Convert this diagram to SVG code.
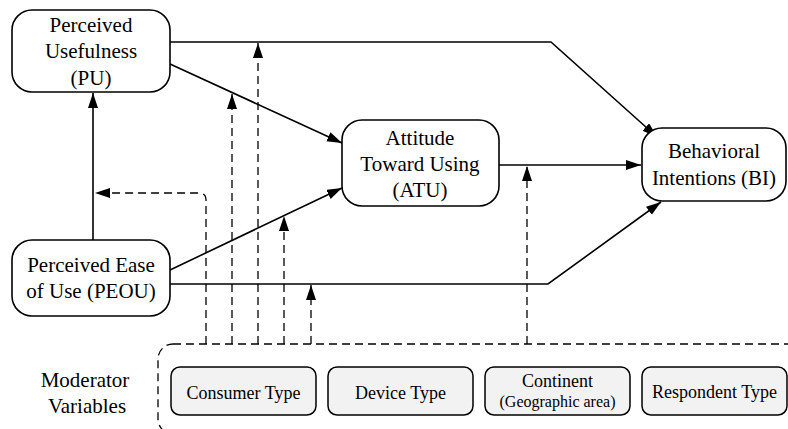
<svg xmlns="http://www.w3.org/2000/svg" width="788" height="429" viewBox="0 0 788 429">
<defs>
<marker id="ah" markerUnits="userSpaceOnUse" markerWidth="16" markerHeight="12" refX="15" refY="5" orient="auto">
<path d="M0,0 L15,5 L0,10 z" fill="#000"/>
</marker>
<style>
.node{fill:#fff;stroke:#000;stroke-width:1.6}
.sub{fill:#f2f2f2;stroke:#000;stroke-width:1.5}
text{font-family:'Liberation Serif','Times New Roman',serif;fill:#000;text-anchor:middle}
.t{font-size:21px}
.s{font-size:18px}
.xs{font-size:16px}
.solid{fill:none;stroke:#000;stroke-width:1.6;marker-end:url(#ah)}
.dash{fill:none;stroke:#000;stroke-width:1.3;stroke-dasharray:8,5}
.darr{marker-end:url(#ah)}
</style>
</defs>
<g id="connectors">
<path class="solid" d="M170,42 H551 L657,137"/>
<path class="solid" d="M170,64 L342,143"/>
<path class="solid" d="M93,240 V93"/>
<path class="solid" d="M170,270 L342,188"/>
<path class="solid" d="M170,284 H548 L661,202"/>
<path class="solid" d="M499,165 H641"/>
<path class="dash darr" d="M206,344 V200 Q206,193 199,193 H95"/>
<path class="dash darr" d="M232,344 V94"/>
<path class="dash darr" d="M258,344 V43"/>
<path class="dash darr" d="M284,344 V216"/>
<path class="dash darr" d="M311,344 V285"/>
<path class="dash darr" d="M527,344 V166"/>
</g>
<g id="moderator">
<rect class="dash" x="158" y="344" width="700" height="90" rx="15"/>
<text class="t" x="85" y="387">Moderator</text>
<text class="t" x="87" y="413">Variables</text>
</g>
<g id="PU">
<rect class="node" x="12" y="10" width="158" height="82" rx="20"/>
<text class="t" x="91" y="32">Perceived</text>
<text class="t" x="91" y="58">Usefulness</text>
<text class="t" x="91" y="85">(PU)</text>
</g>
<g id="PEOU">
<rect class="node" x="12" y="240" width="158" height="76" rx="20"/>
<text class="t" x="91" y="272">Perceived Ease</text>
<text class="t" x="91" y="298">of Use (PEOU)</text>
</g>
<g id="ATU">
<rect class="node" x="342" y="120" width="157" height="86" rx="20"/>
<text class="t" x="420" y="145">Attitude</text>
<text class="t" x="420" y="171">Toward Using</text>
<text class="t" x="420" y="197">(ATU)</text>
</g>
<g id="BI">
<rect class="node" x="642" y="128" width="144" height="73" rx="20"/>
<text class="t" x="714" y="158">Behavioral</text>
<text class="t" x="714" y="185">Intentions (BI)</text>
</g>
<g id="consumer">
<rect class="sub" x="171" y="367" width="145" height="48" rx="9"/>
<text class="s" x="243.5" y="399">Consumer Type</text>
</g>
<g id="device">
<rect class="sub" x="328" y="367" width="145" height="48" rx="9"/>
<text class="s" x="400.5" y="399">Device Type</text>
</g>
<g id="continent">
<rect class="sub" x="485" y="367" width="145" height="48" rx="9"/>
<text class="s" x="557.5" y="387">Continent</text>
<text class="s xs" x="557.5" y="407">(Geographic area)</text>
</g>
<g id="respondent">
<rect class="sub" x="642" y="367" width="145" height="48" rx="9"/>
<text class="s" x="714.5" y="398">Respondent Type</text>
</g>
</svg>
